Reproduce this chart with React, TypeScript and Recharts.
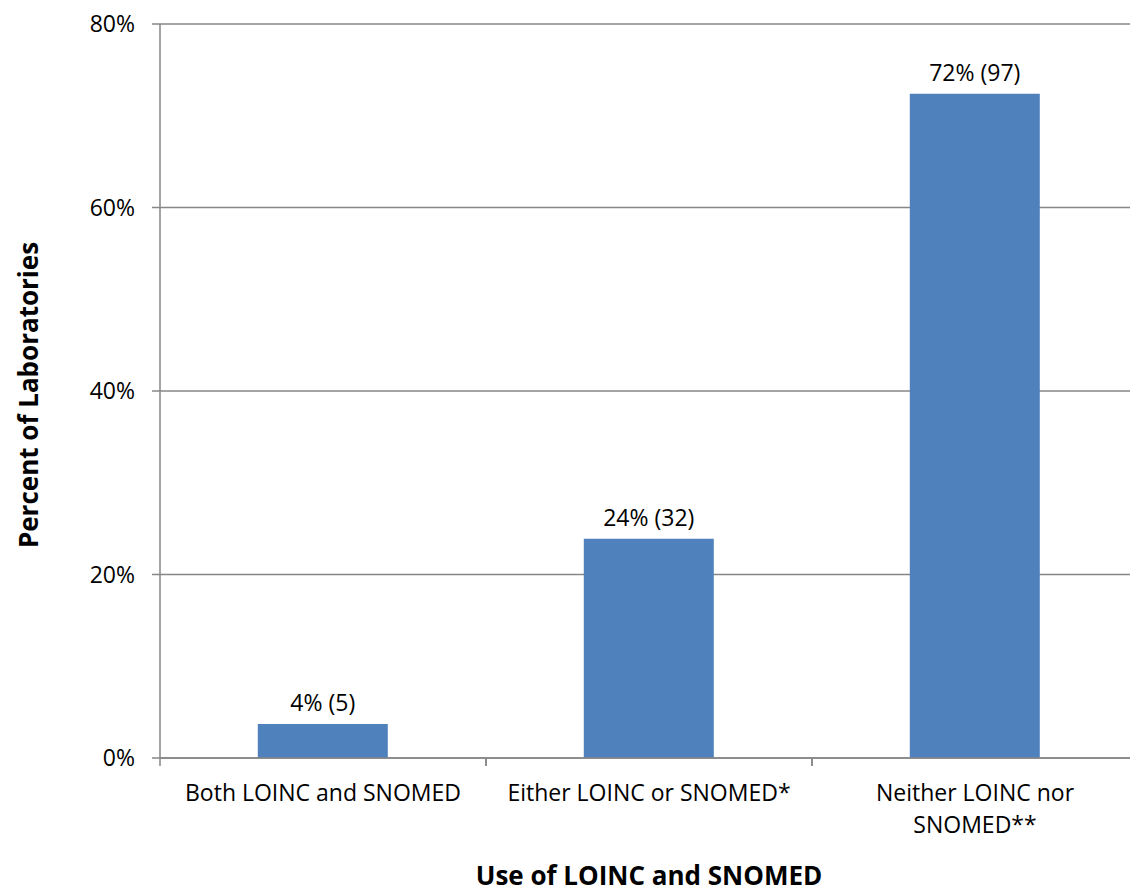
import { BarChart, Bar, XAxis, YAxis, CartesianGrid, LabelList, Label } from 'recharts'

const categories = ['Both LOINC and SNOMED', 'Either LOINC or SNOMED*', 'Neither LOINC nor SNOMED**']
const percents = [3.7, 23.9, 72.4]
const counts = [5, 32, 97]
const percentLabels = ['4%', '24%', '72%']
const yTicks = [0, 20, 40, 60, 80]

const data = categories.map((name, i) => ({
  name,
  value: percents[i],
  label: `${percentLabels[i]} (${counts[i]})`,
}))

const FONT = '"Open Sans", sans-serif'
const AXIS = '#868686'

// greedy word wrap by character count (Excel wraps the long category)
function wrap(s: string, maxChars: number) {
  const lines: string[] = []
  let cur = ''
  for (const w of s.split(' ')) {
    const next = cur ? `${cur} ${w}` : w
    if (next.length > maxChars && cur) {
      lines.push(cur)
      cur = w
    } else {
      cur = next
    }
  }
  if (cur) lines.push(cur)
  return lines
}

function CategoryTick(props: any) {
  const { x, y, payload } = props
  const half = payload?.offset ?? 163
  const lines = wrap(String(payload.value), 24)
  return (
    <g>
      <line x1={x - half} x2={x - half} y1={y - 8} y2={y} stroke={AXIS} strokeWidth={1.5} />
      <line x1={x + half} x2={x + half} y1={y - 8} y2={y} stroke={AXIS} strokeWidth={1.5} />
      <text x={x} y={y + 35} textAnchor="middle" fontSize={23} fontFamily={FONT} fill="#000">
        {lines.map((line, i) => (
          <tspan key={i} x={x} dy={i === 0 ? 0 : 32}>
            {line}
          </tspan>
        ))}
      </text>
    </g>
  )
}

export default function App() {
  return (
    <div
      style={{
        position: 'absolute',
        left: 0,
        top: 0,
        width: 1130,
        height: 887,
        overflow: 'hidden',
        background: '#fff',
      }}
    >
      <BarChart
        width={1146}
        height={887}
        data={data}
        margin={{ top: 24, right: 8, bottom: 0, left: 0 }}
        barCategoryGap="30%"
      >
        <CartesianGrid vertical={false} stroke={AXIS} strokeWidth={1.5} />
        <XAxis
          dataKey="name"
          height={129}
          interval={0}
          tickLine={false}
          axisLine={{ stroke: AXIS, strokeWidth: 1.5 }}
          tick={<CategoryTick />}
        >
          <Label
            value="Use of LOINC and SNOMED"
            position="insideBottom"
            offset={2}
            style={{ fontFamily: FONT, fontSize: 26, fontWeight: 700, fill: '#000' }}
          />
        </XAxis>
        <YAxis
          width={160}
          domain={[0, 80]}
          ticks={yTicks}
          tickFormatter={(v) => `${v}%`}
          tickSize={8}
          tickMargin={17}
          tickLine={{ stroke: AXIS, strokeWidth: 1.5 }}
          axisLine={{ stroke: AXIS, strokeWidth: 1.5 }}
          tick={{ fontSize: 23, fontFamily: FONT, fill: '#000' }}
        >
          <Label
            content={({ viewBox }: any) => {
              const cx = viewBox.x + 28
              const cy = viewBox.y + viewBox.height / 2 + 4
              return (
                <text
                  x={cx}
                  y={cy}
                  transform={`rotate(-90, ${cx}, ${cy})`}
                  textAnchor="middle"
                  dominantBaseline="central"
                  fontFamily={FONT}
                  fontSize={26}
                  fontWeight={700}
                  fill="#000"
                >
                  Percent of Laboratories
                </text>
              )
            }}
          />
        </YAxis>
        <Bar dataKey="value" fill="#4F81BD" isAnimationActive={false}>
          <LabelList
            dataKey="label"
            position="top"
            offset={13}
            style={{ fontFamily: FONT, fontSize: 23, fill: '#000' }}
          />
        </Bar>
      </BarChart>
    </div>
  )
}
